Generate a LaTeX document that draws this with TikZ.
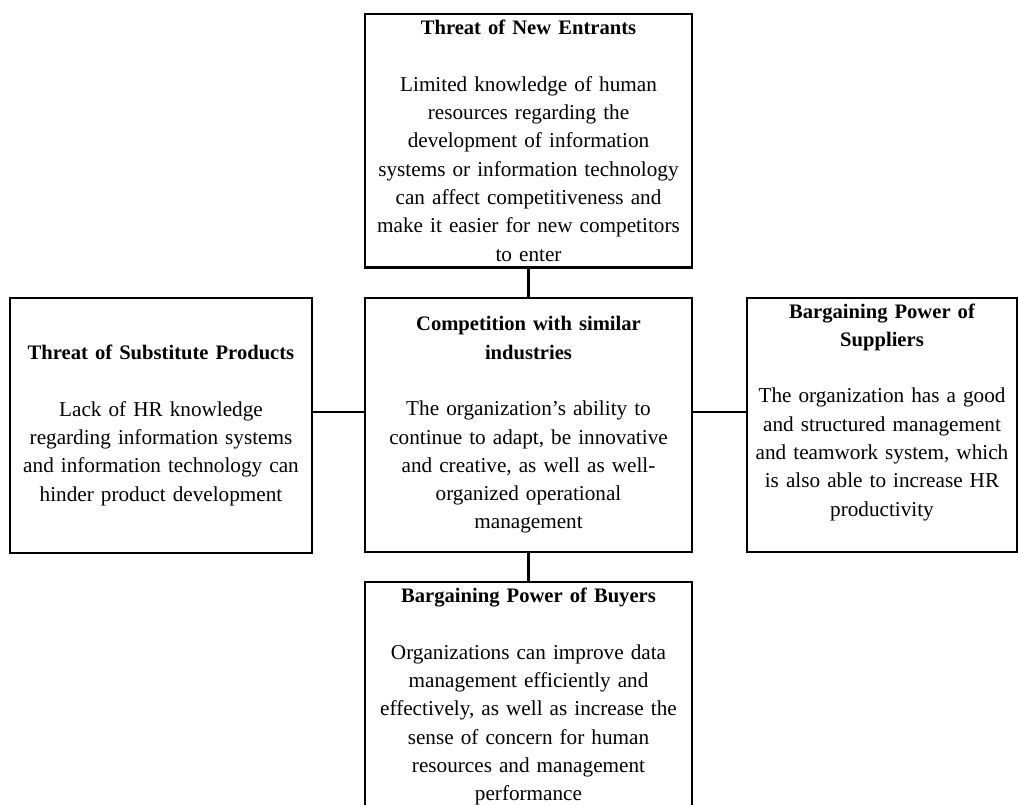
\documentclass[tikz,border=0pt]{standalone}
\usepackage{fontspec}
\setmainfont{Liberation Serif}
\usetikzlibrary{positioning}
\newcommand{\forcetitle}[1]{{\fontsize{20.6}{28.3}\selectfont\bfseries #1}}
\tikzstyle{forcebox}=[
    draw,
    line width=2.4pt,
    align=center,
    inner xsep=4pt,
    inner ysep=6pt,
    font=\fontsize{21.2}{28.3}\selectfont,
]
\tikzstyle{link}=[line width=2.4pt]

\begin{document}
\begin{tikzpicture}[x=1pt, y=1pt]
        \useasboundingbox (0,0) rectangle (1018,-805);
        \node (entrants) at (528.5, -13) [forcebox, anchor=north, text width=319pt] {\forcetitle{Threat of New Entrants}\\[28.3pt]
            Limited knowledge of human\\ resources regarding the\\ development of information\\ systems or information technology\\ can affect competitiveness and\\ make it easier for new competitors\\ to enter};
        \node (substitutes) at (161, -425.5) [forcebox, text width=294pt, minimum height=255pt] {\forcetitle{Threat of Substitute Products}\\[28.3pt]
            Lack of HR knowledge\\ regarding information systems\\ and information technology can\\ hinder product development};
        \node (rivalry) at (528.5, -425) [forcebox, text width=319pt, minimum height=254pt] {\forcetitle{Competition with similar}\\ \forcetitle{industries}\\[28.3pt]
            The organization's ability to\\ continue to adapt, be innovative\\ and creative, as well as well-\\ organized operational\\ management};
        \node (suppliers) at (882, -425) [forcebox, inner ysep=2pt, text width=262pt, minimum height=254pt] {\forcetitle{Bargaining Power of}\\ \forcetitle{Suppliers}\\[28.3pt]
            The organization has a good\\ and structured management\\ and teamwork system, which\\ is also able to increase HR\\ productivity\\[2pt] \mbox{}};
        \node (buyers) at (528.5, -581) [forcebox, anchor=north, text width=319pt] {\forcetitle{Bargaining Power of Buyers}\\[28.3pt]
            Organizations can improve data\\ management efficiently and\\ effectively, as well as increase the\\ sense of concern for human\\ resources and management\\ performance};
        \draw[link] (entrants) -- (rivalry);
        \draw[link] (rivalry) -- (buyers);
        \draw[link] ([yshift=13.5pt]substitutes.east) -- ([yshift=13pt]rivalry.west);
        \draw[link] ([yshift=13pt]rivalry.east) -- ([yshift=13pt]suppliers.west);
    \end{tikzpicture}
\end{document}
